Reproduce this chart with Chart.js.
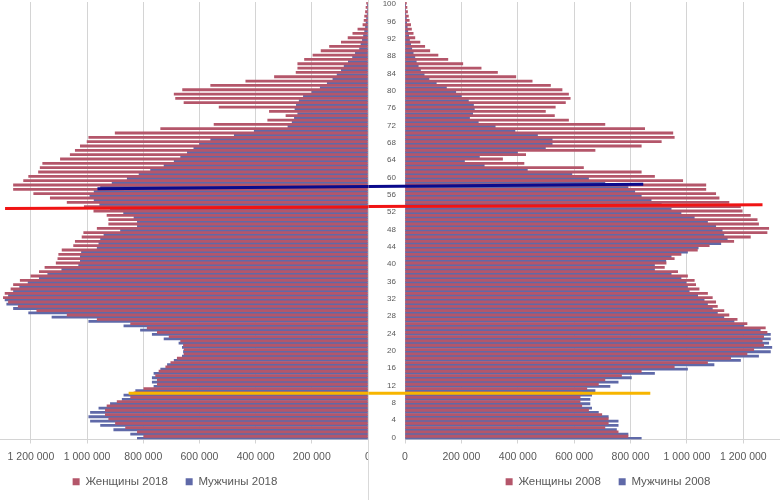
<!DOCTYPE html>
<html>
<head>
<meta charset="utf-8">
<script src="https://cdn.jsdelivr.net/npm/chart.js@4.4.1/dist/chart.umd.min.js"></script>
<style>
  body { margin: 0; background: #fff; }
  #wrap { position: relative; width: 780px; height: 500px; }
  #sep { position: absolute; left: 368px; top: 0; width: 1px; height: 500px; background: #d9d9d9; }
  #c2018 { position: absolute; left: 0; top: 0; }
  #c2008 { position: absolute; left: 368px; top: 0; }
</style>
</head>
<body>
<div id="wrap">
  <div id="sep"></div>
  <canvas id="c2018" width="368" height="500"></canvas>
  <canvas id="c2008" width="412" height="500"></canvas>
</div>
<script>
// ages 0..100
const ages = [];
for (let a = 0; a <= 100; a++) ages.push(a);

// population, thousands, index = age
const women2018 = [798, 821, 863, 899, 923, 935, 935, 929, 893, 845,
  833, 798, 750, 750, 756, 744, 720, 702, 679, 655,
  655, 657, 667, 708, 750, 786, 845, 964, 1071, 1179,
  1245, 1280, 1298, 1292, 1271, 1262, 1238, 1200, 1170, 1150,
  1110, 1104, 1101, 1089, 1048, 1042, 1018, 1012, 964, 923,
  923, 929, 976, 1010, 1071, 1131, 1190, 1262, 1262, 1226,
  1208, 1173, 1167, 1158, 1095, 1060, 1042, 1024, 1000, 994,
  900, 738, 548, 357, 292, 351, 530, 655, 685, 690,
  660, 560, 435, 333, 256, 250, 250, 226, 196, 167,
  137, 95, 71, 54, 36, 18, 14, 12, 9, 7, 5];
const men2018 = [821, 845, 905, 952, 988, 994, 988, 958, 917, 875,
  869, 827, 762, 768, 768, 762, 738, 714, 690, 661,
  657, 661, 673, 726, 768, 810, 869, 994, 1125, 1208,
  1262, 1286, 1292, 1280, 1262, 1240, 1210, 1170, 1140, 1090,
  1030, 1024, 1024, 1020, 964, 958, 952, 940, 881, 821,
  821, 833, 870, 917, 955, 975, 990, 975, 952, 911,
  857, 815, 774, 726, 690, 667, 643, 620, 600, 560,
  476, 405, 285, 270, 262, 250, 260, 255, 245, 230,
  200, 170, 145, 125, 110, 95, 85, 70, 55, 45,
  30, 25, 20, 16, 12, 9, 7, 5, 3, 2, 1];
const women2008 = [791, 756, 709, 721, 721, 698, 651, 627, 621, 621,
  627, 645, 686, 709, 768, 838, 955, 1073, 1155, 1213,
  1237, 1272, 1267, 1272, 1284, 1278, 1213, 1178, 1149, 1131,
  1108, 1102, 1090, 1073, 1043, 1031, 1026, 1002, 967, 920,
  926, 955, 979, 1037, 1079, 1166, 1225, 1284, 1290, 1254,
  1249, 1225, 1196, 1190, 1149, 1114, 1102, 1067, 1067, 985,
  885, 838, 633, 422, 346, 428, 674, 838, 909, 955,
  950, 850, 709, 580, 530, 498, 533, 569, 586, 580,
  557, 516, 451, 393, 328, 270, 205, 152, 117, 88,
  70, 53, 35, 29, 23, 20, 15, 12, 9, 7, 5];
const men2008 = [838, 791, 750, 756, 756, 721, 686, 662, 656, 656,
  662, 674, 727, 756, 803, 885, 1002, 1096, 1190, 1254,
  1296, 1301, 1290, 1296, 1296, 1260, 1202, 1167, 1131, 1108,
  1090, 1073, 1061, 1038, 1008, 1002, 997, 979, 944, 885,
  885, 925, 944, 1002, 1040, 1120, 1143, 1131, 1125, 1102,
  1073, 1026, 979, 944, 909, 873, 838, 815, 791, 709,
  651, 592, 434, 281, 211, 264, 399, 498, 522, 522,
  470, 390, 320, 260, 229, 240, 246, 243, 225, 200,
  180, 147, 111, 85, 68, 55, 47, 40, 35, 29,
  24, 20, 16, 13, 10, 8, 6, 5, 3, 2, 1];

// hand-drawn marker lines: [value in thousands, age]
const blueLine2018 = [[963, 57.4], [-10, 57.9]];
const blueLine2008 = [[-130, 57.9], [845, 58.4]];
const redLine2018 = [[1292, 52.8], [-10, 53.2]];
const redLine2008 = [[-130, 53.3], [1268, 53.7]];
const orangeLine2018 = [[852, 10.2], [-10, 10.2]];
const orangeLine2008 = [[-130, 10.2], [870, 10.2]];

const xTicks = [0, 200, 400, 600, 800, 1000, 1200];

const WOMEN = '#b4566a';
const MEN = '#5f69a8';
const TEXT = '#595959';
const GRID = '#d4d4d4';
const FONT = "'Liberation Sans', Arial, sans-serif";

function fmt(v) {
  return String(Math.round(v * 1000)).replace(/\B(?=(\d{3})+(?!\d))/g, ' ');
}

function pts(arr) {
  return arr.map(p => ({ x: p[0], y: p[1] }));
}

// nudge the legend sideways so it sits where the original one does
function shiftLegend(dx) {
  return {
    id: 'shiftLegend',
    afterLayout(chart) {
      chart.legend.left += dx;
      chart.legend.right += dx;
    }
  };
}

// only the two bar series, with a wider gap after the first item
function legendItems(chart) {
  const items = Chart.defaults.plugins.legend.labels.generateLabels(chart)
    .filter(item => item.datasetIndex < 2);
  items[0].text += '    ';
  return items;
}

function makeChart(id, year, women, men, lines, reverse, xMax, legendDx) {
  const showAges = !reverse;
  const ds = [
    { label: 'Женщины ' + year, data: women, backgroundColor: WOMEN, order: 2 },
    { label: 'Мужчины ' + year, data: men, backgroundColor: MEN, order: 2 }
  ];
  lines.forEach(l => ds.push({
    type: 'line', data: pts(l.data), borderColor: l.color, borderWidth: 3,
    pointRadius: 0, clip: false, order: 0
  }));

  return new Chart(document.getElementById(id), {
    type: 'bar',
    data: { labels: ages, datasets: ds },
    plugins: [shiftLegend(legendDx)],
    options: {
      responsive: false,
      animation: false,
      indexAxis: 'y',
      layout: { padding: { top: 2, bottom: 2.5 }, autoPadding: false },
      datasets: { bar: { categoryPercentage: 1, barPercentage: 1, borderWidth: 0 } },
      scales: {
        x: {
          type: 'linear',
          reverse: reverse,
          min: 0,
          max: xMax,
          afterBuildTicks: axis => { axis.ticks = xTicks.map(v => ({ value: v })); },
          afterFit: axis => { axis.paddingLeft = 0; axis.paddingRight = 0; },
          grid: { color: GRID, lineWidth: 1, tickLength: 4 },
          border: { color: GRID },
          ticks: {
            color: TEXT, padding: 8.5, maxRotation: 0, autoSkip: false,
            font: { family: FONT, size: 10.5, lineHeight: 1 },
            callback: v => fmt(v)
          }
        },
        y: {
          type: 'linear',
          min: -0.5,
          max: 100.5,
          offset: false,
          display: showAges,
          afterBuildTicks: axis => {
            axis.ticks = ages.filter(a => a % 4 === 0).map(a => ({ value: a }));
          },
          afterFit: axis => {
            if (showAges) axis.width = 37;
            axis.paddingTop = 0;
            axis.paddingBottom = 0;
          },
          grid: { display: false, drawTicks: false, offset: false },
          border: { display: false },
          ticks: {
            color: TEXT, padding: 9, autoSkip: false,
            font: { family: FONT, size: 8 }
          }
        }
      },
      plugins: {
        legend: {
          position: 'bottom',
          labels: {
            color: TEXT, boxWidth: 7, boxHeight: 7, padding: 5,
            font: { family: FONT, size: 11.5 },
            generateLabels: legendItems
          }
        },
        tooltip: { enabled: false }
      }
    }
  });
}

makeChart('c2018', '2018', women2018, men2018, [
  { data: blueLine2018, color: '#0a0a8c' },
  { data: redLine2018, color: '#f01414' },
  { data: orangeLine2018, color: '#f7b500' }
], true, 1310, -9);

makeChart('c2008', '2008', women2008, men2008, [
  { data: blueLine2008, color: '#0a0a8c' },
  { data: redLine2008, color: '#f01414' },
  { data: orangeLine2008, color: '#f7b500' }
], false, 1330, 34);
</script>
</body>
</html>
